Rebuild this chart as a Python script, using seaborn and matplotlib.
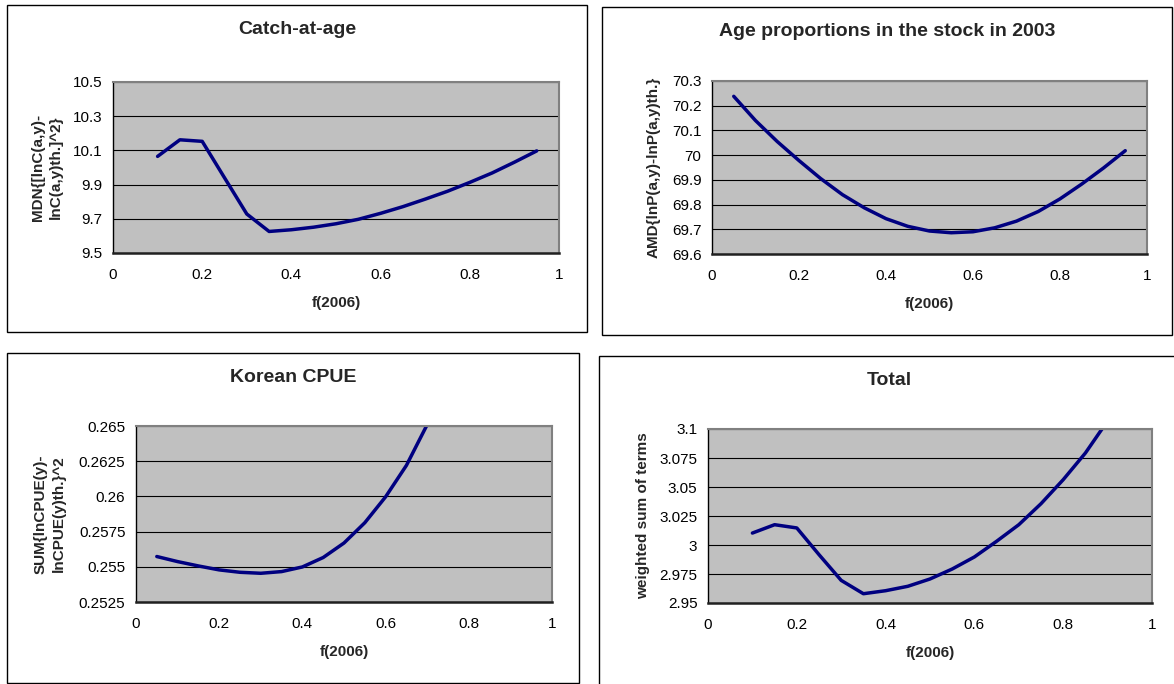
import matplotlib
matplotlib.use('Agg')
import matplotlib.pyplot as plt
import seaborn as sns
from matplotlib.patches import Rectangle
from matplotlib.ticker import FuncFormatter

# Objective function profiles against f(2006)
f_catch = [0.10, 0.15, 0.20, 0.25, 0.30, 0.35, 0.40, 0.45, 0.50, 0.55,
           0.60, 0.65, 0.70, 0.75, 0.80, 0.85, 0.90, 0.95]
catch_at_age = [10.065, 10.162, 10.153, 9.94, 9.728, 9.626, 9.636, 9.651, 9.671, 9.697,
                9.732, 9.771, 9.815, 9.861, 9.913, 9.968, 10.031, 10.097]

f_age = [0.05, 0.10, 0.15, 0.20, 0.25, 0.30, 0.35, 0.40, 0.45, 0.50,
         0.55, 0.60, 0.65, 0.70, 0.75, 0.80, 0.85, 0.90, 0.95]
age_prop = [70.238, 70.14, 70.055, 69.978, 69.905, 69.84, 69.787, 69.743, 69.712, 69.693,
            69.686, 69.69, 69.706, 69.733, 69.772, 69.823, 69.883, 69.948, 70.018]

f_cpue = [0.05, 0.10, 0.15, 0.20, 0.25, 0.30, 0.35, 0.40, 0.45, 0.50,
          0.55, 0.60, 0.65, 0.70, 0.75]
korean_cpue = [0.25573, 0.25537, 0.25506, 0.25478, 0.25461, 0.25454, 0.25466, 0.25499,
               0.25566, 0.25669, 0.25813, 0.25997, 0.2622, 0.2651, 0.2686]

f_total = [0.10, 0.15, 0.20, 0.25, 0.30, 0.35, 0.40, 0.45, 0.50, 0.55,
           0.60, 0.65, 0.70, 0.75, 0.80, 0.85, 0.90]
total = [3.0103, 3.0175, 3.0147, 2.9917, 2.9695, 2.958, 2.9606, 2.9644, 2.9707, 2.9793,
         2.9897, 3.0032, 3.0175, 3.0356, 3.0563, 3.0793, 3.107]

x_ticks = [0, 0.2, 0.4, 0.6, 0.8, 1]
catch_ticks = [9.5, 9.7, 9.9, 10.1, 10.3, 10.5]
age_ticks = [69.6, 69.7, 69.8, 69.9, 70.0, 70.1, 70.2, 70.3]
cpue_ticks = [0.2525, 0.255, 0.2575, 0.26, 0.2625, 0.265]
total_ticks = [2.95, 2.975, 3.0, 3.025, 3.05, 3.075, 3.1]

sns.set_style('white')
plt.rcParams['font.family'] = ['Liberation Sans', 'DejaVu Sans']

W, H = 1174, 684
fig = plt.figure(figsize=(W / 100, H / 100), dpi=100)

fmt = FuncFormatter(lambda v, pos: f"{round(v, 6):g}")


def draw_panel(frame, plot, x, y, yticks, title, ylabel, ylab_x):
    # outer chart frame (pixel coords: x0, y0, x1, y1)
    fig.patches.append(Rectangle((frame[0] / W, 1 - frame[3] / H),
                                 (frame[2] - frame[0]) / W, (frame[3] - frame[1]) / H,
                                 transform=fig.transFigure, fill=False,
                                 lw=1.0, ec='black'))
    x0, y0, x1, y1 = plot
    ax = fig.add_axes([x0 / W, 1 - y1 / H, (x1 - x0) / W, (y1 - y0) / H])
    ax.set_facecolor('#c0c0c0')
    sns.lineplot(x=x, y=y, ax=ax, color='#000080', linewidth=2.5)

    ax.set_xlim(0, 1)
    ax.set_ylim(yticks[0], yticks[-1])
    ax.set_xticks(x_ticks)
    ax.set_yticks(yticks)
    ax.xaxis.set_major_formatter(fmt)
    ax.yaxis.set_major_formatter(fmt)
    ax.tick_params(axis='both', direction='out', length=3.6, width=0.8,
                   colors='black', labelsize=11)
    ax.tick_params(axis='x', pad=7.5)
    ax.tick_params(axis='y', pad=4)
    ax.yaxis.grid(True, color='black', linewidth=0.8)
    ax.xaxis.grid(False)

    for side in ['top', 'right']:
        ax.spines[side].set_color('#808080')
        ax.spines[side].set_linewidth(1.5)
    ax.spines['left'].set_color('black')
    ax.spines['left'].set_linewidth(1.0)
    ax.spines['bottom'].set_color('#202020')
    ax.spines['bottom'].set_linewidth(1.8)

    ax.set_xlabel('f(2006)', fontsize=11, fontweight='bold')
    ax.xaxis.set_label_coords(0.5, -50 / (y1 - y0))
    ax.xaxis.label.set_va('center')
    ax.set_ylabel(ylabel, fontsize=11, fontweight='bold', linespacing=1.35,
                  multialignment='center')
    ax.yaxis.set_label_coords((ylab_x - x0) / (x1 - x0), 0.5)
    ax.yaxis.label.set_va('center')

    fig.text((frame[0] + frame[2]) / 2 / W, 1 - (frame[1] + 24.5) / H, title,
             ha='center', va='center', fontsize=14, fontweight='bold')
    return ax


draw_panel((7, 5, 587, 332), (113, 82, 559, 253), f_catch, catch_at_age, catch_ticks,
           'Catch-at-age', 'MDN{[lnC(a,y)-\nlnC(a,y)th.]^2}', 46.5)
draw_panel((602, 7, 1172, 335), (712, 81, 1147, 254), f_age, age_prop, age_ticks,
           'Age proportions in the stock in 2003', 'AMD{lnP(a,y)-lnP(a,y)th.}', 654)
draw_panel((7, 353, 579, 683), (136, 426, 552, 602), f_cpue, korean_cpue, cpue_ticks,
           'Korean CPUE', 'SUM{lnCPUE(y)-\nlnCPUE(y)th.}^2', 50)
draw_panel((599, 356, 1180, 700), (708, 429, 1152, 603), f_total, total, total_ticks,
           'Total', 'weighted sum of terms', 642.6)

fig.savefig('out.png', dpi=100, facecolor='white')
